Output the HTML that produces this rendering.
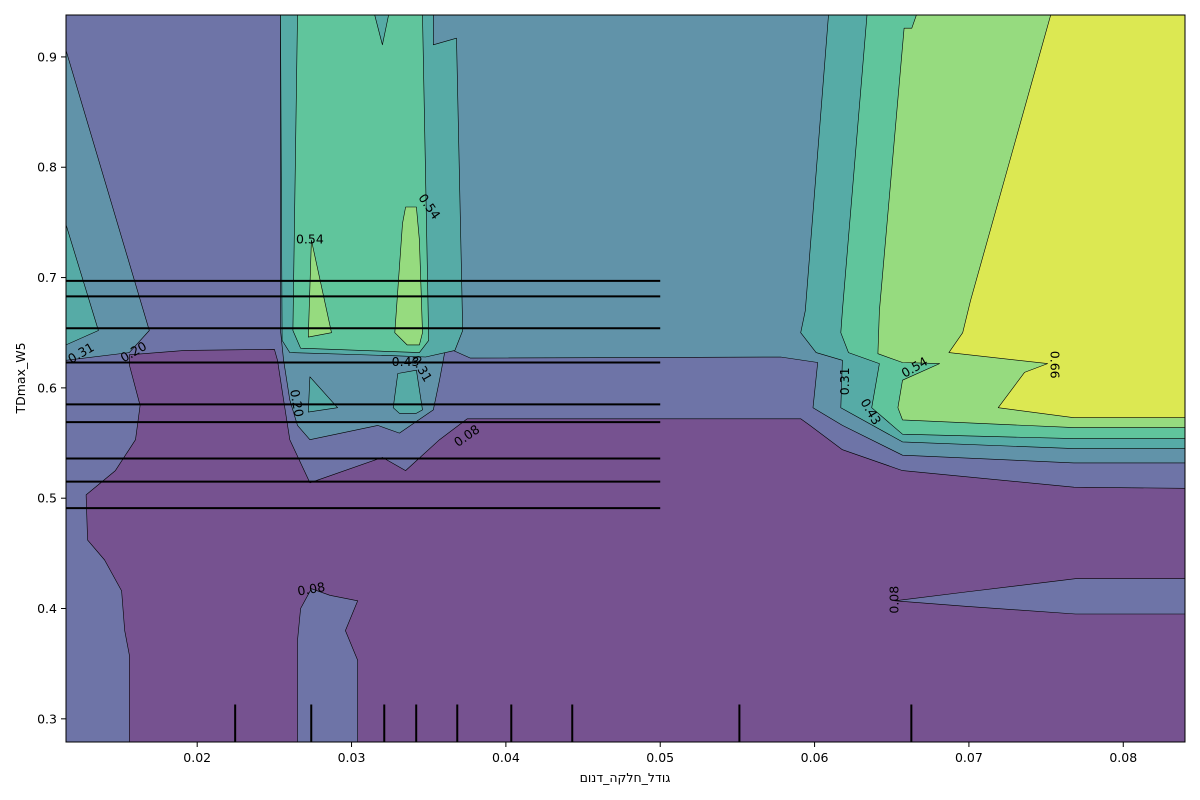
<!DOCTYPE html>
<html><head><meta charset="utf-8"><style>
html,body{margin:0;padding:0;background:#fff;}
svg{display:block;font-family:"DejaVu Sans","Liberation Sans",sans-serif;}
</style></head><body>
<svg id="chart" width="1200" height="800" viewBox="0 0 1200 800" xmlns="http://www.w3.org/2000/svg">
<defs><clipPath id="plotclip"><rect x="66" y="15" width="1119" height="727"/></clipPath></defs>
<g id="plot" clip-path="url(#plotclip)"></g>
<g id="overlay"></g>
<rect x="66" y="15" width="1119" height="727" fill="none" stroke="#000" stroke-width="1"/>
<g id="axes"></g>
<text x="625" y="782" font-size="12.5" text-anchor="middle" style="direction:ltr;unicode-bidi:bidi-override">םונד_הקלח_לדוג</text>
<text transform="translate(25,378) rotate(-90)" font-size="12.5" text-anchor="middle">TDmax_W5</text>
</svg>
<script>
// axis domains
const xDomain = [0.0115, 0.0840];
const yDomain = [0.279, 0.938];
const xTicks = [0.02, 0.03, 0.04, 0.05, 0.06, 0.07, 0.08];
const xTickLabels = ["0.02","0.03","0.04","0.05","0.06","0.07","0.08"];
const yTicks = [0.3, 0.4, 0.5, 0.6, 0.7, 0.8, 0.9];
const yTickLabels = ["0.3","0.4","0.5","0.6","0.7","0.8","0.9"];
const levelColors = ["#765290","#6e74a7","#6193a9","#56aba6","#60c59c","#96db7f","#dce852"];
// contour regions (data coordinates)
const purpleRegion = [[0.0156,0.279],[0.0156,0.358],[0.0153,0.380],[0.0151,0.416],[0.0140,0.444],[0.0129,0.462],[0.0128,0.503],[0.0147,0.525],[0.0160,0.553],[0.0163,0.584],[0.0156,0.621],[0.0156,0.630],[0.0192,0.634],[0.0250,0.635],[0.0252,0.625],[0.0256,0.589],[0.0260,0.553],[0.0273,0.514],[0.0320,0.537],[0.0335,0.525],[0.0357,0.553],[0.0375,0.572],[0.0591,0.572],[0.0597,0.566],[0.0618,0.544],[0.0657,0.525],[0.0768,0.510],[0.0840,0.509],[0.0840,0.279]];
const l1Wedge = [[0.0652,0.407],[0.0698,0.415],[0.0769,0.427],[0.0840,0.427],[0.0840,0.395],[0.0769,0.395],[0.0698,0.402]];
const l1Hump = [[0.0265,0.279],[0.0265,0.371],[0.0267,0.400],[0.0274,0.418],[0.0286,0.412],[0.0304,0.407],[0.0296,0.380],[0.0304,0.353],[0.0304,0.279]];
const l2Left = [[0.0115,0.906],[0.0169,0.652],[0.0156,0.632],[0.0115,0.625]];
const l2Main = [[0.0254,0.938],[0.0840,0.938],[0.0840,0.532],[0.0768,0.532],[0.0657,0.539],[0.0618,0.566],[0.0599,0.582],[0.0602,0.623],[0.0578,0.628],[0.0377,0.627],[0.0361,0.637],[0.0357,0.607],[0.0353,0.580],[0.0331,0.559],[0.0317,0.566],[0.0273,0.553],[0.0265,0.566],[0.0260,0.589],[0.0256,0.625],[0.0254,0.652]];
const l3Left = [[0.0115,0.748],[0.0136,0.652],[0.0115,0.639]];
const l3Column = [[0.0254,0.938],[0.0353,0.938],[0.0353,0.911],[0.0368,0.917],[0.0372,0.652],[0.0367,0.634],[0.0348,0.628],[0.0331,0.629],[0.0260,0.632],[0.0255,0.643]];
const l3Island1 = [[0.0273,0.610],[0.0291,0.582],[0.0272,0.578]];
const l3Island2 = [[0.0330,0.613],[0.0342,0.616],[0.0346,0.580],[0.0342,0.577],[0.0331,0.577],[0.0327,0.582]];
const l3Right = [[0.0609,0.938],[0.0840,0.938],[0.0840,0.545],[0.0768,0.545],[0.0657,0.551],[0.0617,0.582],[0.0618,0.625],[0.0601,0.632],[0.0591,0.650],[0.0594,0.670]];
const l4Column = [[0.0265,0.938],[0.0315,0.938],[0.0320,0.911],[0.0324,0.938],[0.0346,0.938],[0.0350,0.643],[0.0344,0.632],[0.0267,0.636],[0.0262,0.652]];
const l4Right = [[0.0634,0.938],[0.0840,0.938],[0.0840,0.554],[0.0768,0.554],[0.0657,0.558],[0.0637,0.582],[0.0642,0.622],[0.0622,0.632],[0.0617,0.650],[0.0618,0.670]];
const l5Spike1 = [[0.0274,0.734],[0.0272,0.646],[0.0287,0.650]];
const l5Spike2 = [[0.0335,0.764],[0.0342,0.764],[0.0344,0.734],[0.0346,0.650],[0.0344,0.639],[0.0336,0.639],[0.0328,0.650],[0.0333,0.749]];
const l5Right = [[0.0666,0.938],[0.0840,0.938],[0.0840,0.564],[0.0768,0.564],[0.0657,0.571],[0.0654,0.582],[0.0657,0.607],[0.0681,0.622],[0.0657,0.623],[0.0641,0.631],[0.0642,0.670],[0.0658,0.926],[0.0663,0.926]];
const l6Right = [[0.0753,0.938],[0.0840,0.938],[0.0840,0.573],[0.0768,0.573],[0.0719,0.582],[0.0736,0.614],[0.0751,0.622],[0.0687,0.632],[0.0696,0.650],[0.0701,0.679]];
// rug (deciles)
const yRug = [0.697, 0.683, 0.654, 0.623, 0.585, 0.569, 0.536, 0.515, 0.491];
const xRug = [0.02246, 0.02739, 0.03212, 0.03419, 0.03685, 0.04035, 0.0443, 0.05513, 0.06627];
const yRugEnd = 0.034;
// contour labels
const labelText = ["0.31","0.20","0.54","0.54","0.43","0.31","0.20","0.08","0.08","0.08","0.31","0.43","0.54","0.66"];
const labelX = [0.0125,0.0159,0.0273,0.0350,0.0335,0.0345,0.0264,0.0375,0.0274,0.0652,0.0620,0.0636,0.0665,0.0755];
const labelY = [0.631,0.632,0.734,0.764,0.623,0.617,0.586,0.556,0.417,0.408,0.606,0.578,0.618,0.621];
const labelRot = [-30,-30,0,55,0,60,80,-35,-10,-90,-90,60,-30,90];

const PX0=66, PX1=1185, PY0=742, PY1=15;
function sx(v){return PX0+(v-xDomain[0])/(xDomain[1]-xDomain[0])*(PX1-PX0);}
function sy(v){return PY0-(v-yDomain[0])/(yDomain[1]-yDomain[0])*(PY0-PY1);}
const NS="http://www.w3.org/2000/svg";
const plot=document.getElementById('plot');
const overlay=document.getElementById('overlay');
const axes=document.getElementById('axes');

const bg=document.createElementNS(NS,'rect');
bg.setAttribute('x',PX0);bg.setAttribute('y',PY1);bg.setAttribute('width',PX1-PX0);bg.setAttribute('height',PY0-PY1);
bg.setAttribute('fill',levelColors[1]);


plot.appendChild(bg);

function poly(pts, lvl, name){
  const p=document.createElementNS(NS,'polygon');
  p.setAttribute('points',pts.map(q=>sx(q[0]).toFixed(1)+','+sy(q[1]).toFixed(1)).join(' '));
  p.setAttribute('fill',levelColors[lvl]);
  p.setAttribute('stroke','#000');
  p.setAttribute('stroke-width','0.6');
  p.setAttribute('stroke-linejoin','round');
  
  
  plot.appendChild(p);
}
poly(purpleRegion,0,'contour-band-lowest');
poly(l1Wedge,1,'contour-band-l1-wedge');
poly(l1Hump,1,'contour-band-l1-hump');
poly(l2Left,2,'contour-band-l2-left');
poly(l2Main,2,'contour-band-l2-main');
poly(l3Left,3,'contour-band-l3-left');
poly(l3Column,3,'contour-band-l3-column');
poly(l3Island1,3,'contour-band-l3-island');
poly(l3Island2,3,'contour-band-l3-island');
poly(l3Right,3,'contour-band-l3-right');
poly(l4Column,4,'contour-band-l4-column');
poly(l4Right,4,'contour-band-l4-right');
poly(l5Spike1,5,'contour-band-l5-spike');
poly(l5Spike2,5,'contour-band-l5-spike');
poly(l5Right,5,'contour-band-l5-right');
poly(l6Right,6,'contour-band-l6-right');

for(let i=0;i<labelText.length;i++){
  const t=document.createElementNS(NS,'text');
  const x=sx(labelX[i]), y=sy(labelY[i]);
  t.setAttribute('transform','translate('+x.toFixed(1)+','+y.toFixed(1)+') rotate('+labelRot[i]+')');
  t.setAttribute('font-size','12.5');
  t.setAttribute('text-anchor','middle');
  t.setAttribute('dominant-baseline','middle');
  t.textContent=labelText[i];
  
  
  plot.appendChild(t);
}

for(const v of yRug){
  const l=document.createElementNS(NS,'line');
  l.setAttribute('x1',sx(xDomain[0]));l.setAttribute('x2',sx(0.05));
  l.setAttribute('y1',sy(v));l.setAttribute('y2',sy(v));
  l.setAttribute('stroke','#000');l.setAttribute('stroke-width','2');
  
  
  overlay.appendChild(l);
}
for(const v of xRug){
  const l=document.createElementNS(NS,'line');
  l.setAttribute('x1',sx(v));l.setAttribute('x2',sx(v));
  l.setAttribute('y1',sy(yDomain[0]));l.setAttribute('y2',sy(yDomain[0]+yRugEnd));
  l.setAttribute('stroke','#000');l.setAttribute('stroke-width','2');
  
  
  overlay.appendChild(l);
}

xTicks.forEach((v,i)=>{
  const x=sx(v);
  const l=document.createElementNS(NS,'line');
  l.setAttribute('x1',x);l.setAttribute('x2',x);l.setAttribute('y1',742);l.setAttribute('y2',747);
  l.setAttribute('stroke','#000');
  
  
  axes.appendChild(l);
  const t=document.createElementNS(NS,'text');
  t.setAttribute('x',x);t.setAttribute('y',762);t.setAttribute('font-size','12.5');t.setAttribute('text-anchor','middle');
  t.textContent=xTickLabels[i];
  
  
  axes.appendChild(t);
});
yTicks.forEach((v,i)=>{
  const y=sy(v);
  const l=document.createElementNS(NS,'line');
  l.setAttribute('x1',61);l.setAttribute('x2',66);l.setAttribute('y1',y);l.setAttribute('y2',y);
  l.setAttribute('stroke','#000');
  
  
  axes.appendChild(l);
  const t=document.createElementNS(NS,'text');
  t.setAttribute('x',57);t.setAttribute('y',y+4.5);t.setAttribute('font-size','12.5');t.setAttribute('text-anchor','end');
  t.textContent=yTickLabels[i];
  
  
  axes.appendChild(t);
});
</script>
</body></html>
